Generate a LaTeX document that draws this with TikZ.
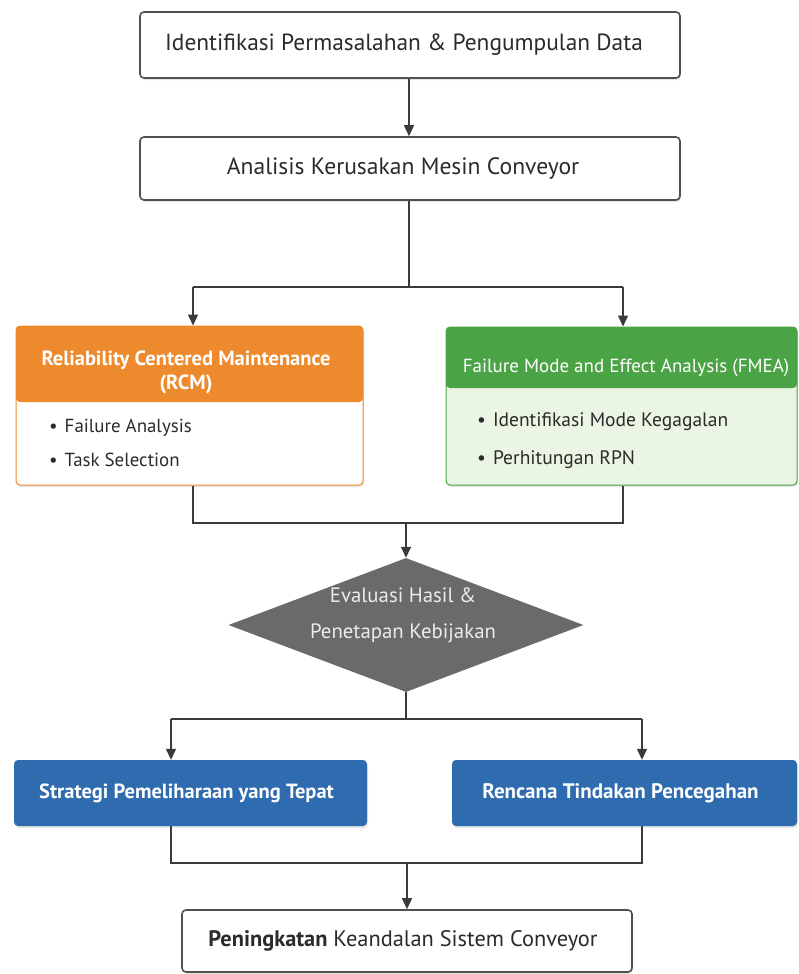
\documentclass[tikz,border=0pt]{standalone}
\usepackage{fontspec}
\setmainfont{PT Sans}
\usetikzlibrary{arrows.meta,shapes.geometric,shadows}
\definecolor{lineC}{HTML}{3A3A3A}
\definecolor{borderC}{HTML}{505050}
\definecolor{txtC}{HTML}{2B2B2B}
\definecolor{orangeC}{HTML}{EE8A2E}
\definecolor{greenC}{HTML}{4AA345}
\definecolor{greenL}{HTML}{EAF5E3}
\definecolor{blueC}{HTML}{2F6BAF}
\definecolor{greyD}{HTML}{6A6A6A}
\tikzset{
  conn/.style={draw=lineC, line width=1.4pt},
  arr/.style={conn, -{Triangle[length=11pt,width=10pt]}},
  plainbox/.style={draw=borderC, line width=1.6pt, fill=white, rounded corners=4pt,
    drop shadow={opacity=0.2, shadow xshift=1pt, shadow yshift=-2pt}, text=txtC, align=center},
  bluebox/.style={fill=blueC, rounded corners=4pt, text=white, font=\bfseries\fontsize{20.5}{24}\selectfont,
    drop shadow={opacity=0.2, shadow xshift=1pt, shadow yshift=-2pt}},
  bullettxt/.style={anchor=west, text=txtC, inner sep=0pt},
}
\begin{document}
\begin{tikzpicture}[x=1pt,y=-1pt]
\useasboundingbox (0,0) rectangle (798,974);
% top boxes
\node[plainbox, minimum width=540pt, minimum height=66pt, font=\fontsize{23.4}{28}\selectfont] (b1) at (410,45) {Identifikasi Permasalahan \& Pengumpulan Data\hspace*{12pt}};
\node[plainbox, minimum width=540pt, minimum height=63pt, font=\fontsize{23.6}{28}\selectfont] (b2) at (410,168.5) {Analisis Kerusakan Mesin Conveyor\hspace*{14pt}};
% RCM box
\node[draw=orangeC, line width=1pt, fill=white, rounded corners=4pt, minimum width=347pt, minimum height=159pt,
  drop shadow={opacity=0.2, shadow xshift=1pt, shadow yshift=-2pt},
  path picture={\fill[orangeC] (path picture bounding box.north west) rectangle ([yshift=-76pt]path picture bounding box.north east);}] (rcm) at (189.5,405.5) {};
\node[text=white, font=\bfseries\fontsize{20.5}{24}\selectfont, align=center] (rcmh) at (186,372) {Reliability Centered Maintenance\\(RCM)};
\node[bullettxt, font=\fontsize{18.9}{22}\selectfont] (r1) at (49,428) {\textbullet\hspace{7pt}Failure Analysis};
\node[bullettxt, font=\fontsize{18.9}{22}\selectfont] (r2) at (49,460) {\textbullet\hspace{7pt}Task Selection};
% FMEA box
\node[draw=greenC, line width=1pt, fill=greenL, rounded corners=4pt, minimum width=351pt, minimum height=158pt,
  drop shadow={opacity=0.2, shadow xshift=1pt, shadow yshift=-2pt},
  path picture={\fill[greenC] (path picture bounding box.north west) rectangle ([yshift=-61pt]path picture bounding box.north east);}] (fmea) at (621.5,406) {};
\node[text=white, font=\fontsize{19}{22}\selectfont] (fmeah) at (626,368) {Failure Mode and Effect Analysis (FMEA)};
\node[bullettxt, font=\fontsize{19.5}{23}\selectfont] (f1) at (477,422) {\textbullet\hspace{7pt}Identifikasi Mode Kegagalan};
\node[bullettxt, font=\fontsize{19.5}{23}\selectfont] (f2) at (477,460) {\textbullet\hspace{7pt}Perhitungan RPN};
% diamond
\node[diamond, fill=greyD, minimum width=355pt, minimum height=134pt, inner sep=0pt, aspect=2.65] (dec) at (406,625) {};
\node[text=white!92!black, font=\fontsize{20.8}{36}\selectfont, align=center] (dect) at (403,615) {Evaluasi Hasil \&\\Penetapan Kebijakan};
% blue boxes
\node[bluebox, minimum width=353pt, minimum height=66pt] (s1) at (190.5,793) {Strategi Pemeliharaan yang Tepat\hspace*{8pt}};
\node[bluebox, minimum width=345pt, minimum height=66pt, font=\bfseries\fontsize{21}{24}\selectfont] (s2) at (624.5,793) {Rencana Tindakan Pencegahan\hspace*{8pt}};
% final
\node[plainbox, minimum width=450pt, minimum height=62pt, font=\fontsize{22.4}{26}\selectfont] (fin) at (407,941) {\textbf{Peningkatan} Keandalan Sistem Conveyor\hspace*{8pt}};
% connectors
\coordinate (j1) at (409,287);
\coordinate (j1l) at (193,287);
\coordinate (j1r) at (623,287);
\coordinate (j2) at (406,523);
\coordinate (j2l) at (193,523);
\coordinate (j2r) at (623,523);
\coordinate (j3) at (406,719);
\coordinate (j3l) at (171,719);
\coordinate (j3r) at (642,719);
\coordinate (j4) at (407,863);
\coordinate (j4l) at (171,863);
\coordinate (j4r) at (642,863);
\draw[arr] (b1.south -| 409,0) -- (b2.north -| 409,0);
\draw[conn] (b2.south -| j1) -- (j1);
\draw[conn] (j1l) -- (j1r);
\draw[arr] (j1l) -- (j1l |- rcm.north);
\draw[arr] (j1r) -- (j1r |- fmea.north);
\draw[conn] (j2l |- rcm.south) -- (j2l) -- (j2r) -- (j2r |- fmea.south);
\draw[arr] (j2) -- (dec.north);
\draw[conn] (dec.south) -- (j3);
\draw[conn] (j3l) -- (j3r);
\draw[arr] (j3l) -- (j3l |- s1.north);
\draw[arr] (j3r) -- (j3r |- s2.north);
\draw[conn] (j4l |- s1.south) -- (j4l) -- (j4r) -- (j4r |- s2.south);
\draw[arr] (j4) -- (fin.north -| j4);
\end{tikzpicture}
\end{document}
